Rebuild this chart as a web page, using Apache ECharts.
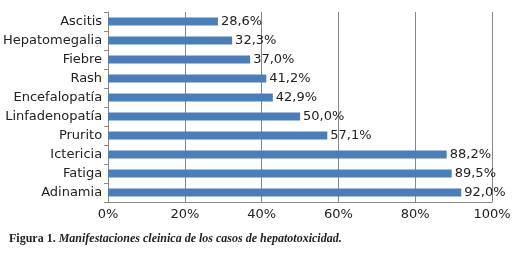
<!DOCTYPE html>
<html>
<head>
<meta charset="utf-8">
<script src="https://cdn.jsdelivr.net/npm/echarts@6/dist/echarts.min.js"></script>
<style>
  html, body { margin: 0; padding: 0; background: #fff; }
  #chart { width: 523px; height: 266px; }
</style>
</head>
<body>
<div id="chart"></div>
<script>
// categorias de abajo hacia arriba
var categories = ['Adinamia', 'Fatiga', 'Ictericia', 'Prurito', 'Linfadenopatía',
  'Encefalopatía', 'Rash', 'Fiebre', 'Hepatomegalia', 'Ascitis']
var values = [92.0, 89.5, 88.2, 57.1, 50.0, 42.9, 41.2, 37.0, 32.3, 28.6]
var xTicks = [0, 20, 40, 60, 80, 100]

var chart = echarts.init(document.getElementById('chart'), null, { renderer: 'canvas' })

var option = {
  animation: false,
  backgroundColor: '#fff',
  textStyle: { fontFamily: 'DejaVu Sans' },
  title: {
    text: '{b|Figura 1.}{i| Manifestaciones cleinica de los casos de hepatotoxicidad.}',
    left: 9,
    top: 233,
    padding: 0,
    textStyle: {
      rich: {
        b: { fontFamily: 'Liberation Serif', fontWeight: 'bold', fontSize: 12, color: '#222' },
        i: { fontFamily: 'Liberation Serif', fontStyle: 'italic', fontSize: 12, color: '#222' }
      }
    }
  },
  grid: { left: 102, right: 31, top: 12, bottom: 64 },
  xAxis: {
    type: 'value',
    min: 0,
    max: 100,
    interval: 20,
    axisLine: { show: true, lineStyle: { color: '#888', width: 1 } },
    axisTick: { show: false },
    splitLine: { show: true, lineStyle: { color: '#888', width: 1 } },
    axisLabel: {
      color: '#222',
      fontSize: 13,
      margin: 6,
      formatter: function (v) { return xTicks.indexOf(v) >= 0 ? v + '%' : '' }
    }
  },
  yAxis: {
    type: 'category',
    data: categories,
    axisLine: { show: true, lineStyle: { color: '#888', width: 1 } },
    axisTick: { show: true, length: 4, lineStyle: { color: '#888' } },
    axisLabel: { color: '#222', fontSize: 13, margin: 6 }
  },
  series: [
    {
      type: 'bar',
      data: values,
      barWidth: 8,
      itemStyle: { color: '#4a7ebb' },
      label: {
        show: true,
        position: 'right',
        distance: 3,
        color: '#222',
        fontSize: 13,
        formatter: function (p) { return p.value.toFixed(1).replace('.', ',') + '%' }
      }
    }
  ]
}

chart.setOption(option)
</script>
</body>
</html>
